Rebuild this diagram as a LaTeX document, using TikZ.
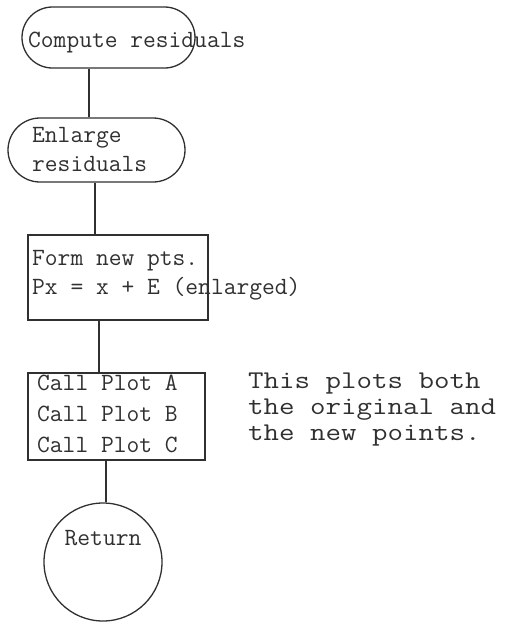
\documentclass[tikz,border=0pt]{standalone}
\usepackage{fontspec}
\usepackage{graphicx}
\usetikzlibrary{shapes.misc}
\definecolor{ink}{HTML}{303030}
\newcommand{\widetxt}[1]{\scalebox{1.18}[1]{#1}}
\tikzset{
  shp/.style={draw=ink, line width=1.3pt, inner sep=0pt},
  stad/.style={shp, rounded rectangle},
  boxx/.style={shp, rectangle},
  txt/.style={anchor=base west, inner sep=0pt, text=ink, font=\fontsize{24.8}{29}\ttfamily},
  note/.style={anchor=base west, inner sep=0pt, text=ink, font=\fontsize{25.5}{26}\ttfamily},
  link/.style={draw=ink, line width=1.2pt}
}
\begin{document}
\begin{tikzpicture}[x=1pt,y=1pt]
\useasboundingbox (0,0) rectangle (505,-622);
% shapes
\node[stad, minimum width=173pt, minimum height=61pt] (n1) at (108.5,-37.5) {};
\node[stad, minimum width=177pt, minimum height=64pt] (n2) at (96.5,-150) {};
\node[boxx, minimum width=180pt, minimum height=85pt] (n3) at (118,-277.5) {};
\node[boxx, minimum width=177pt, minimum height=87pt] (n4) at (116.5,-416.5) {};
\node[shp, circle, minimum size=118pt] (n5) at (103,-562) {};
% texts
\node[txt] (t1) at (28,-47) {Compute residuals};
\node[txt] (t2a) at (32,-142) {Enlarge};
\node[txt] (t2b) at (32,-171) {residuals};
\node[txt] (t3a) at (32,-265) {Form new pts.};
\node[txt] (t3b) at (32,-294) {Px = x + E (enlarged)};
\node[txt] (t4a) at (37,-390) {Call Plot A};
\node[txt] (t4b) at (37,-421) {Call Plot B};
\node[txt] (t4c) at (37,-452) {Call Plot C};
\node[txt, anchor=base] (t5) at (103,-545) {Return};
\node[note] (m1) at (248,-388) {\widetxt{This plots both}};
\node[note] (m2) at (248,-414) {\widetxt{the original and}};
\node[note] (m3) at (248,-440) {\widetxt{the new points.}};
% connectors
\coordinate (x1) at (89,0);
\coordinate (x2) at (95,0);
\coordinate (x3) at (99,0);
\coordinate (x4) at (106,0);
\draw[link] (n1.south -| x1) -- (n2.north -| x1);
\draw[link] (n2.south -| x2) -- (n3.north -| x2);
\draw[link] (n3.south -| x3) -- (n4.north -| x3);
\draw[link] (n4.south -| x4) -- (n5.north -| x4);
\end{tikzpicture}
\end{document}
